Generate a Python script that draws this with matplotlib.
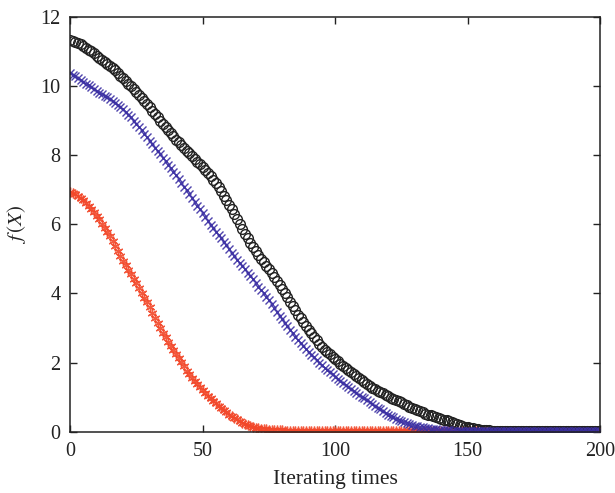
import matplotlib
matplotlib.use("Agg")
import matplotlib.pyplot as plt
import numpy as np

# values, one per iteration (0..200)
iters = np.arange(0, 201)

black_vals = [
    11.33, 11.31, 11.28, 11.25, 11.20, 11.15, 11.10, 11.05, 11.00, 10.94, 10.88,
    10.82, 10.76, 10.70, 10.64, 10.58, 10.52, 10.45, 10.38, 10.30, 10.23,
    10.15, 10.07, 9.99, 9.91, 9.83, 9.74, 9.65, 9.56, 9.47, 9.38,
    9.29, 9.20, 9.10, 9.00, 8.90, 8.81, 8.72, 8.63, 8.54, 8.45,
    8.37, 8.29, 8.21, 8.13, 8.05, 7.97, 7.89, 7.81, 7.73, 7.65,
    7.57, 7.48, 7.39, 7.29, 7.18, 7.07, 6.95, 6.83, 6.70, 6.57,
    6.43, 6.29, 6.15, 6.00, 5.86, 5.72, 5.59, 5.46, 5.34, 5.22,
    5.11, 5.00, 4.90, 4.80, 4.70, 4.59, 4.48, 4.37, 4.25, 4.13,
    4.01, 3.89, 3.76, 3.63, 3.51, 3.39, 3.28, 3.17, 3.06, 2.95,
    2.85, 2.75, 2.65, 2.55, 2.46, 2.38, 2.31, 2.24, 2.17, 2.10,
    2.04, 1.97, 1.91, 1.84, 1.78, 1.72, 1.67, 1.61, 1.56, 1.50,
    1.44, 1.39, 1.33, 1.28, 1.23, 1.19, 1.15, 1.11, 1.07, 1.03,
    0.99, 0.96, 0.92, 0.89, 0.85, 0.81, 0.77, 0.73, 0.69, 0.65,
    0.62, 0.59, 0.56, 0.53, 0.50, 0.48, 0.45, 0.43, 0.40, 0.38,
    0.35, 0.33, 0.30, 0.28, 0.25, 0.23, 0.20, 0.18, 0.15, 0.13,
    0.11, 0.10, 0.08, 0.07, 0.06, 0.05, 0.04, 0.04, 0.03, 0.03,
    0.03, 0.02, 0.02, 0.02, 0.02, 0.02, 0.02, 0.02, 0.02, 0.02,
    0.02, 0.02, 0.02, 0.02, 0.02, 0.02, 0.02, 0.02, 0.02, 0.02,
    0.02, 0.02, 0.02, 0.02, 0.02, 0.02, 0.02, 0.02, 0.02, 0.02,
    0.02, 0.02, 0.02, 0.02, 0.02, 0.02, 0.02, 0.02, 0.02, 0.02,
]

blue_vals = [
    10.38, 10.33, 10.28, 10.23, 10.17, 10.12, 10.07, 10.02, 9.96, 9.91, 9.86,
    9.81, 9.76, 9.72, 9.67, 9.62, 9.57, 9.51, 9.45, 9.39, 9.32,
    9.25, 9.17, 9.09, 9.00, 8.91, 8.82, 8.72, 8.62, 8.52, 8.42,
    8.32, 8.22, 8.12, 8.02, 7.92, 7.82, 7.72, 7.62, 7.52, 7.42,
    7.31, 7.20, 7.09, 6.98, 6.87, 6.76, 6.65, 6.54, 6.43, 6.32,
    6.21, 6.10, 5.99, 5.89, 5.79, 5.69, 5.59, 5.49, 5.39, 5.29,
    5.16, 5.07, 4.97, 4.88, 4.79, 4.70, 4.60, 4.51, 4.41, 4.31,
    4.20, 4.10, 4.00, 3.90, 3.80, 3.69, 3.58, 3.47, 3.36, 3.25,
    3.15, 3.05, 2.95, 2.85, 2.75, 2.66, 2.57, 2.48, 2.39, 2.30,
    2.22, 2.15, 2.07, 2.00, 1.92, 1.86, 1.79, 1.73, 1.66, 1.60,
    1.54, 1.48, 1.42, 1.36, 1.30, 1.24, 1.19, 1.13, 1.08, 1.02,
    0.97, 0.91, 0.86, 0.80, 0.75, 0.70, 0.65, 0.60, 0.55, 0.50,
    0.46, 0.42, 0.38, 0.34, 0.31, 0.28, 0.25, 0.23, 0.20, 0.18,
    0.16, 0.15, 0.13, 0.12, 0.10, 0.09, 0.08, 0.07, 0.06, 0.05,
    0.05, 0.04, 0.04, 0.03, 0.03, 0.03, 0.02, 0.02, 0.02, 0.02,
    0.02, 0.02, 0.02, 0.02, 0.02, 0.02, 0.02, 0.02, 0.02, 0.02,
    0.02, 0.02, 0.02, 0.02, 0.02, 0.02, 0.02, 0.02, 0.02, 0.02,
    0.02, 0.02, 0.02, 0.02, 0.02, 0.02, 0.02, 0.02, 0.02, 0.02,
    0.02, 0.02, 0.02, 0.02, 0.02, 0.02, 0.02, 0.02, 0.02, 0.02,
    0.02, 0.02, 0.02, 0.02, 0.02, 0.02, 0.02, 0.02, 0.02, 0.02,
]

red_vals = [
    6.94, 6.91, 6.87, 6.82, 6.76, 6.70, 6.62, 6.53, 6.44, 6.35, 6.25,
    6.14, 6.02, 5.90, 5.78, 5.65, 5.51, 5.37, 5.23, 5.09, 4.95,
    4.82, 4.69, 4.56, 4.43, 4.30, 4.16, 4.02, 3.88, 3.74, 3.60,
    3.45, 3.30, 3.15, 3.00, 2.86, 2.73, 2.61, 2.49, 2.37, 2.25,
    2.13, 2.01, 1.89, 1.77, 1.66, 1.56, 1.47, 1.38, 1.29, 1.20,
    1.12, 1.04, 0.97, 0.90, 0.83, 0.76, 0.69, 0.63, 0.56, 0.50,
    0.45, 0.40, 0.36, 0.31, 0.27, 0.23, 0.20, 0.17, 0.15, 0.12,
    0.11, 0.09, 0.08, 0.07, 0.06, 0.05, 0.05, 0.04, 0.04, 0.04,
    0.03, 0.03, 0.03, 0.03, 0.03, 0.03, 0.03, 0.03, 0.03, 0.03,
    0.03, 0.03, 0.03, 0.03, 0.03, 0.03, 0.03, 0.03, 0.03, 0.03,
    0.03, 0.03, 0.03, 0.03, 0.03, 0.03, 0.03, 0.03, 0.03, 0.03,
    0.03, 0.03, 0.03, 0.03, 0.03, 0.03, 0.03, 0.03, 0.03, 0.03,
    0.03, 0.03, 0.03, 0.03, 0.03, 0.03, 0.03, 0.03, 0.03, 0.03,
    0.03, 0.03, 0.03, 0.03, 0.03, 0.03, 0.03, 0.03, 0.03, 0.03,
    0.03, 0.03, 0.03, 0.03, 0.03, 0.03, 0.03, 0.03, 0.03, 0.03,
    0.03, 0.03, 0.03, 0.03, 0.03, 0.03, 0.03, 0.03, 0.03, 0.03,
    0.03, 0.03, 0.03, 0.03, 0.03, 0.03, 0.03, 0.03, 0.03, 0.03,
    0.03, 0.03, 0.03, 0.03, 0.03, 0.03, 0.03, 0.03, 0.03, 0.03,
    0.03, 0.03, 0.03, 0.03, 0.03, 0.03, 0.03, 0.03, 0.03, 0.03,
    0.03, 0.03, 0.03, 0.03, 0.03, 0.03, 0.03, 0.03, 0.03, 0.03,
]

xticks = [0, 50, 100, 150, 200]
yticks = [0, 2, 4, 6, 8, 10, 12]

plt.rcParams['font.family'] = ['Liberation Serif', 'DejaVu Serif']
plt.rcParams['mathtext.fontset'] = 'stix'

fig = plt.figure(figsize=(6.15, 4.93), dpi=100)
ax = fig.add_axes([0.114, 0.124, 0.862, 0.842])

ax.plot(iters, red_vals, linestyle='none', marker=(6, 2, 0), markersize=7,
        color='#f2482a', markeredgewidth=1.0, alpha=0.9)
ax.plot(iters, black_vals, linestyle='none', marker='o', markersize=7,
        markerfacecolor='none', markeredgecolor='#222222', markeredgewidth=1.0)
ax.plot(iters, blue_vals, linestyle='none', marker='x', markersize=5.5,
        color='#3b2fa3', markeredgewidth=1.0, alpha=0.9)

ax.set_xlim(0, 200)
ax.set_ylim(0, 12)
ax.set_xticks(xticks)
ax.set_yticks(yticks)
ax.tick_params(direction='in', length=5, width=1, top=True, right=True,
               labelsize=14.5, colors='#222222', pad=7)
for s in ax.spines.values():
    s.set_linewidth(1.1)
    s.set_color('#222222')

ax.set_xlabel('Iterating times', fontsize=15.5, color='#222222', labelpad=7)
ax.set_ylabel(r'$f\,(X)$', fontsize=15, color='#222222', labelpad=9)

fig.savefig('out.png', dpi=100)
